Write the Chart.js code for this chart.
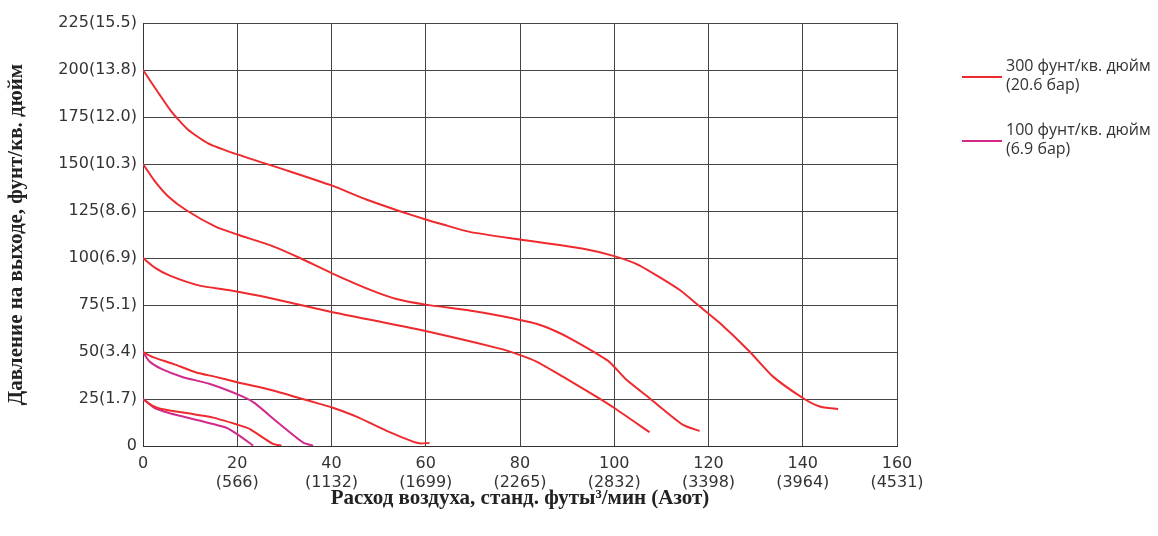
<!DOCTYPE html>
<html>
<head>
<meta charset="utf-8">
<script src="https://cdn.jsdelivr.net/npm/chart.js@4"></script>
<style>
  body { margin: 0; background: #fff; }
  #wrap { position: relative; width: 1158px; height: 536px; }
  .legend { position: absolute; left: 962px; font-family: 'Open Sans', sans-serif; font-size: 16px; color: #333; line-height: 19px; }
  .legend .item { position: relative; padding-left: 44px; }
  .legend .swatch { position: absolute; left: 0; top: 20px; width: 40px; height: 2px; }
</style>
</head>
<body>
<div id="wrap">
  <canvas id="pumpChart" width="1158" height="536"></canvas>
  <div class="legend" style="top: 56px;">
    <div class="item"><span class="swatch" style="background:#ee2a2e"></span>300 фунт/кв. дюйм<br>(20.6 бар)</div>
  </div>
  <div class="legend" style="top: 120px;">
    <div class="item"><span class="swatch" style="background:#cf2a8c"></span>100 фунт/кв. дюйм<br>(6.9 бар)</div>
  </div>
</div>
<script>
// tick labels
const xTickLabels = [['0'], ['20', '(566)'], ['40', '(1132)'], ['60', '(1699)'], ['80', '(2265)'],
    ['100', '(2832)'], ['120', '(3398)'], ['140', '(3964)'], ['160', '(4531)']];
const yTickLabels = ['0', '25(1.7)', '50(3.4)', '75(5.1)', '100(6.9)', '125(8.6)', '150(10.3)', '175(12.0)', '200(13.8)', '225(15.5)'];

// 300 psi supply curves (flow, outlet pressure)
const flow300a = [0, 6, 9.5, 13.8, 20, 30, 40, 47.4, 54.5, 60, 63.7, 69.3, 80, 93.7, 100, 105.4, 113.9, 118.1, 122.4, 128.7, 133.7, 140.1, 143.6, 147.5];
const press300a = [200, 178, 168.4, 161, 155.1, 147, 138.6, 131.1, 124.9, 120.5, 117.8, 113.9, 109.8, 104.8, 101, 96, 83, 74.3, 65.4, 50.3, 36.9, 25.4, 21, 19.6];
const flow300b = [0, 2.5, 5.3, 9.2, 15.6, 20, 27.6, 33.3, 40, 48.1, 53.8, 60, 69.3, 75.7, 83.5, 87.7, 91.2, 98.7, 102.6, 107.5, 114.6, 118.1];
const press300b = [150, 140.9, 132.9, 125.4, 116.4, 112.5, 106.2, 100, 92, 83.2, 78.2, 75.2, 72.1, 69.3, 65, 60.9, 56.5, 45.3, 35.2, 25.4, 11.2, 8];
const flow300c = [0, 2.5, 5.7, 12, 18.4, 26.9, 40, 58, 75.7, 79.9, 83.5, 89.1, 96.2, 100.1, 107.5];
const press300c = [100, 94.9, 90.6, 85.3, 82.8, 78.7, 71.3, 62.2, 51.8, 48.5, 44.9, 36.9, 26.3, 20.1, 7.3];
const flow300d = [0, 2.1, 6.4, 11.3, 15.2, 20.2, 27.6, 33.3, 37.5, 40, 45.3, 51.6, 57.3, 58.7, 60.8];
const press300d = [50, 47.3, 43.7, 39.1, 36.9, 33.8, 29.5, 25.4, 22.4, 20.6, 15.6, 8.2, 2.3, 1.4, 1.6];
const flow300e = [0, 2.1, 3.9, 14.9, 20.2, 22.6, 27.6, 29.4];
const press300e = [25, 21.3, 19.7, 15.1, 11.2, 9.1, 1.1, 0.2];

// 100 psi supply curves
const flow100a = [0, 1.4, 3.9, 8.5, 14.2, 21.2, 23.7, 29, 34, 36.1];
const press100a = [50, 44.9, 41, 36.6, 33, 26.3, 22.8, 11.7, 1.8, 0.2];
const flow100b = [0, 2.5, 5.7, 14.9, 18, 20.2, 23.4];
const press100b = [25, 20.1, 17.4, 11.7, 9.4, 5.9, 0.2];

const red = '#ee2a2e';
const magenta = '#cf2a8c';

function toPoints(xs, ys) {
    return xs.map((x, i) => ({ x: x, y: ys[i] }));
}

function curve(xs, ys, color) {
    return {
        data: toPoints(xs, ys),
        borderColor: color,
        borderWidth: 2,
        pointRadius: 0,
        tension: 0.2,
        fill: false
    };
}

const datasets = [
    curve(flow300a, press300a, red),
    curve(flow300b, press300b, red),
    curve(flow300c, press300c, red),
    curve(flow300d, press300d, red),
    curve(flow300e, press300e, red),
    curve(flow100a, press100a, magenta),
    curve(flow100b, press100b, magenta)
];

const tickFont = { family: "'DejaVu Sans', sans-serif", size: 16 };
const titleFont = { family: "'Liberation Serif', serif", size: 21, weight: 'bold' };

new Chart(document.getElementById('pumpChart'), {
    type: 'line',
    data: { datasets: datasets },
    options: {
        responsive: false,
        animation: false,
        layout: { padding: { top: 23, right: 261, left: 0, bottom: 0 } },
        plugins: { legend: { display: false }, tooltip: { enabled: false } },
        scales: {
            x: {
                type: 'linear',
                min: 0,
                max: 160,
                ticks: {
                    stepSize: 20,
                    padding: 8,
                    color: '#333',
                    font: tickFont,
                    maxRotation: 0,
                    callback: (value) => xTickLabels[value / 20]
                },
                grid: { color: '#444', lineWidth: 1, drawTicks: false },
                border: { color: '#333', width: 1 },
                title: {
                    display: true,
                    text: 'Расход воздуха, станд. футы³/мин (Азот)',
                    color: '#222',
                    font: titleFont,
                    padding: { top: 0, bottom: 25 }
                },
                afterFit: (scale) => { scale.height = 90; }
            },
            y: {
                min: 0,
                max: 225,
                ticks: {
                    stepSize: 25,
                    padding: 6,
                    color: '#333',
                    font: tickFont,
                    callback: (value) => yTickLabels[value / 25]
                },
                grid: { color: '#444', lineWidth: 1, drawTicks: false },
                border: { color: '#333', width: 1 },
                title: {
                    display: true,
                    text: 'Давление на выходе, фунт/кв. дюйм',
                    color: '#222',
                    font: titleFont,
                    padding: { top: 4, bottom: 0 }
                },
                afterFit: (scale) => { scale.width = 143; }
            }
        }
    }
});
</script>
</body>
</html>
